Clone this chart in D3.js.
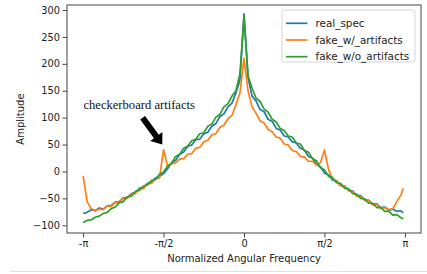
<!DOCTYPE html>
<html>
<head>
<meta charset="utf-8">
<script src="https://cdn.jsdelivr.net/npm/d3@7"></script>
<style>
  html, body { margin: 0; padding: 0; background: #fff; }
  svg { display: block; font-family: "DejaVu Sans", sans-serif; }
</style>
</head>
<body>
<svg id="chart" width="427" height="274"></svg>
<script>
// frequency in units of pi
var freq = [-1, -0.975, -0.95, -0.925, -0.9, -0.875, -0.85, -0.825, -0.8, -0.775,
  -0.75, -0.725, -0.7, -0.675, -0.65, -0.625, -0.6, -0.575, -0.55, -0.525,
  -0.5, -0.475, -0.45, -0.425, -0.4, -0.375, -0.35, -0.325, -0.3, -0.275,
  -0.25, -0.225, -0.2, -0.175, -0.15, -0.125, -0.1, -0.075, -0.05, -0.025,
  0,
  0.025, 0.05, 0.075, 0.1, 0.125, 0.15, 0.175, 0.2, 0.225, 0.25,
  0.275, 0.3, 0.325, 0.35, 0.375, 0.4, 0.425, 0.45, 0.475, 0.5,
  0.525, 0.55, 0.575, 0.6, 0.625, 0.65, 0.675, 0.7, 0.725, 0.75,
  0.775, 0.8, 0.825, 0.85, 0.875, 0.9, 0.925, 0.95, 0.975, 0.99];

var realSpec = [-78, -76, -71, -73, -68, -70, -64, -63, -57, -56,
  -49, -48, -41, -39, -31, -30, -22, -20, -12, -9,
  -4, 5, 16, 21, 32, 36, 47, 49, 59, 60,
  70, 73, 84, 89, 102, 107, 120, 127, 146, 170,
  293,
  175, 140, 131, 115, 111, 97, 93, 80, 77, 66,
  64, 55, 53, 43, 40, 28, 25, 13, 9, -3,
  -6, -16, -17, -26, -27, -35, -36, -45, -45, -53,
  -53, -61, -60, -67, -66, -72, -70, -74, -73, -77];

var fakeArtifacts = [-8, -56, -69, -73, -70, -71, -64, -65, -58, -57,
  -50, -50, -42, -41, -32, -32, -23, -22, -14, -12,
  40, 10, 14, 16, 23, 24, 32, 33, 43, 45,
  55, 58, 68, 70, 82, 86, 98, 104, 124, 146,
  210,
  150, 120, 108, 94, 90, 78, 74, 64, 62, 51,
  49, 39, 37, 28, 27, 19, 19, 12, 16, 40,
  4, -14, -18, -27, -28, -36, -37, -46, -46, -54,
  -54, -62, -61, -68, -67, -71, -69, -56, -44, -31];

var fakeNoArtifacts = [-95, -91, -90, -85, -83, -78, -76, -69, -66, -58,
  -56, -47, -46, -37, -35, -27, -25, -17, -15, -5,
  -1, 10, 16, 28, 32, 43, 47, 57, 60, 70,
  72, 84, 88, 101, 106, 120, 126, 140, 150, 182,
  288,
  178, 155, 136, 130, 116, 110, 97, 92, 80, 76,
  66, 64, 53, 51, 39, 36, 24, 20, 7, 3,
  -9, -11, -21, -22, -31, -32, -41, -42, -50, -51,
  -59, -59, -67, -67, -74, -74, -81, -80, -86, -88];

var seriesNames = ["real_spec", "fake_w/_artifacts", "fake_w/o_artifacts"];
var seriesColors = ["#1f77b4", "#ff7f0e", "#2ca02c"];

var xTicks = [-1, -0.5, 0, 0.5, 1];
var xTickLabels = ["-\u03c0", "-\u03c0/2", "0", "\u03c0/2", "\u03c0"];
var yTicks = [-100, -50, 0, 50, 100, 150, 200, 250, 300];

// annotation: text anchor and arrow (tail, tip) in data units
var noteText = "checkerboard artifacts";
var notePos = [-0.998, 116];
var arrowTail = [-0.63, 100];
var arrowTip = [-0.508, 50];

var svg = d3.select("#chart");
var margin = {top: 5, right: 6, bottom: 41, left: 67},
    width = 427 - margin.left - margin.right,
    height = 274 - margin.top - margin.bottom;

// thin grey rule under the figure
svg.append("line")
  .attr("x1", 10).attr("x2", 427)
  .attr("y1", 271.5).attr("y2", 271.5)
  .attr("stroke", "#e2e2e2").attr("stroke-width", 1);

var g = svg.append("g")
  .attr("transform", "translate(" + margin.left + "," + margin.top + ")");

var xScale = d3.scaleLinear().domain([-1.1, 1.1]).range([0, width]);
var yScale = d3.scaleLinear().domain([-114.3, 309.3]).range([height, 0]);

// axes
var xAxis = g.append("g")
  .attr("transform", "translate(0," + height + ")")
  .call(d3.axisBottom(xScale).tickValues(xTicks)
    .tickFormat(function(d, i) { return xTickLabels[i]; })
    .tickSize(4.5).tickPadding(2.5));

var yAxis = g.append("g")
  .call(d3.axisLeft(yScale).tickValues(yTicks)
    .tickFormat(function(d) { return d < 0 ? "\u2212" + Math.abs(d) : d; })
    .tickSize(4.5).tickPadding(2.5));

[xAxis, yAxis].forEach(function(a) {
  a.select(".domain").remove();
  a.selectAll(".tick line").attr("stroke", "#333").attr("stroke-width", 0.9);
  a.selectAll(".tick text").attr("fill", "#222")
    .style("font-family", "DejaVu Sans").style("font-size", "9.8px");
});

// lines
var line = d3.line()
  .x(function(d) { return xScale(d[0]); })
  .y(function(d) { return yScale(d[1]); });

[realSpec, fakeArtifacts, fakeNoArtifacts].forEach(function(vals, i) {
  g.append("path")
    .datum(freq.map(function(f, j) { return [f, vals[j]]; }))
    .attr("fill", "none")
    .attr("stroke", seriesColors[i])
    .attr("stroke-width", 1.7)
    .attr("stroke-linejoin", "round")
    .attr("d", line);
});

// frame
g.append("rect")
  .attr("x", 0).attr("y", 0)
  .attr("width", width).attr("height", height)
  .attr("fill", "none").attr("stroke", "#444").attr("stroke-width", 1);

// axis labels
g.append("text")
  .attr("x", width / 2).attr("y", height + 29)
  .attr("text-anchor", "middle")
  .style("font-size", "10px").attr("fill", "#222")
  .text("Normalized Angular Frequency");

g.append("text")
  .attr("transform", "translate(" + (-43) + "," + (height / 2) + ") rotate(-90)")
  .attr("text-anchor", "middle")
  .style("font-size", "10px").attr("fill", "#222")
  .text("Amplitude");

// annotation
g.append("text")
  .attr("x", xScale(notePos[0])).attr("y", yScale(notePos[1]))
  .style("font-family", "Liberation Serif, serif").style("font-size", "12.6px")
  .attr("fill", "#111")
  .text(noteText);

var tx = xScale(arrowTail[0]), ty = yScale(arrowTail[1]);
var hx = xScale(arrowTip[0]), hy = yScale(arrowTip[1]);
var dx = hx - tx, dy = hy - ty, len = Math.sqrt(dx * dx + dy * dy);
var ux = dx / len, uy = dy / len, px = -uy, py = ux;
var headLen = 10, shaft = 3, headW = 7.5;
var bx = hx - ux * headLen, by = hy - uy * headLen;
var pts = [
  [tx + px * shaft, ty + py * shaft],
  [bx + px * shaft, by + py * shaft],
  [bx + px * headW, by + py * headW],
  [hx, hy],
  [bx - px * headW, by - py * headW],
  [bx - px * shaft, by - py * shaft],
  [tx - px * shaft, ty - py * shaft]
];
g.append("path")
  .attr("d", "M" + pts.map(function(p) { return p[0] + "," + p[1]; }).join("L") + "Z")
  .attr("fill", "#000");

// legend
var legend = g.append("g").attr("transform", "translate(" + (width - 139) + "," + 5 + ")");
legend.append("rect")
  .attr("width", 133).attr("height", 52)
  .attr("rx", 2.5)
  .attr("fill", "#fff").attr("fill-opacity", 0.85)
  .attr("stroke", "#d0d0d0").attr("stroke-width", 0.9);

seriesNames.forEach(function(name, i) {
  var yy = 13.3 + i * 16.7;
  legend.append("line")
    .attr("x1", 4).attr("x2", 25.5)
    .attr("y1", yy).attr("y2", yy)
    .attr("stroke", seriesColors[i]).attr("stroke-width", 1.7);
  legend.append("text")
    .attr("x", 33.5).attr("y", yy + 3.7)
    .style("font-size", "10.4px").attr("fill", "#222")
    .text(name);
});
</script>
</body>
</html>
